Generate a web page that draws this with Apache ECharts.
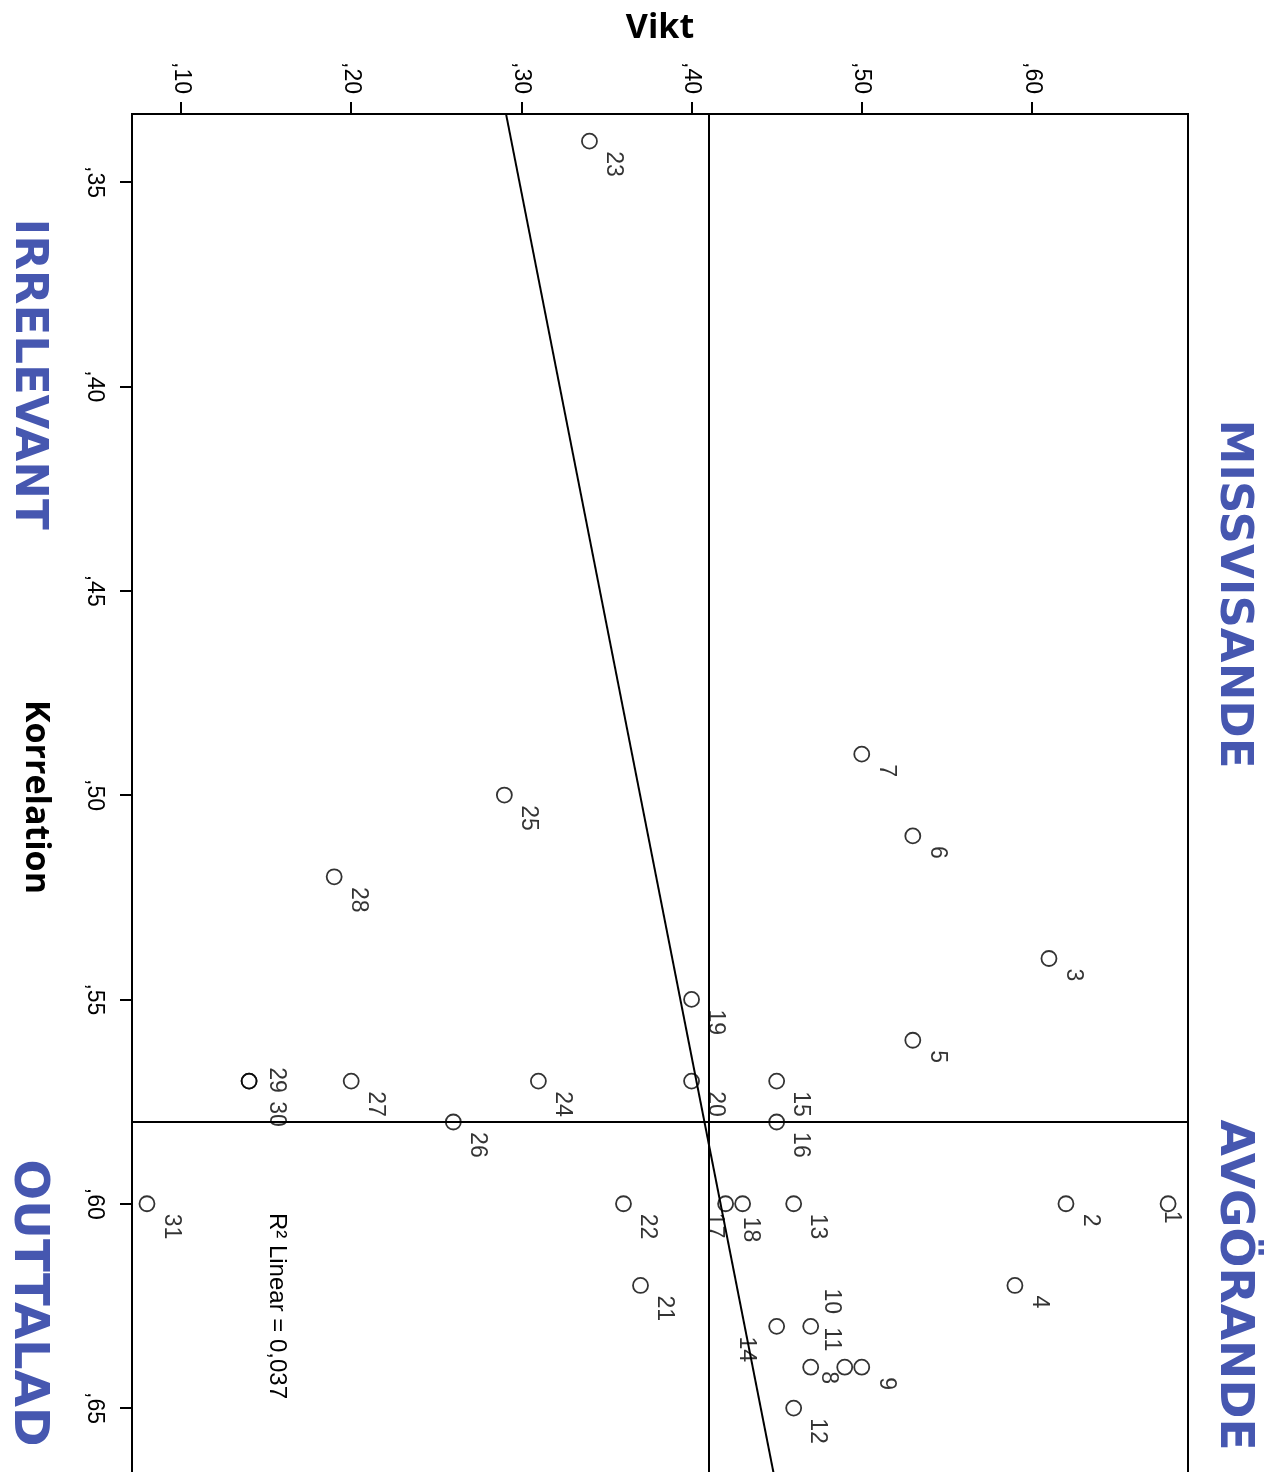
<!DOCTYPE html>
<html>
<head>
<meta charset="utf-8">
<script src="https://cdn.jsdelivr.net/npm/echarts@6/dist/echarts.min.js"></script>
<style>
  html, body { margin: 0; padding: 0; background: #fff; }
  #chart { width: 1280px; height: 1472px; }
</style>
</head>
<body>
<div id="chart"></div>
<script>
// punkter: nummer, vikt, korrelation
const pointIds = [1, 2, 3, 4, 5, 6, 7, 8, 9, 10, 11, 12, 13, 14, 15, 16,
                  17, 18, 19, 20, 21, 22, 23, 24, 25, 26, 27, 28, 29, 30, 31];
const vikt = [0.68, 0.62, 0.61, 0.59, 0.53, 0.53, 0.50, 0.49, 0.50, 0.47, 0.47, 0.46, 0.46, 0.45, 0.45, 0.45,
              0.42, 0.43, 0.40, 0.40, 0.37, 0.36, 0.34, 0.31, 0.29, 0.26, 0.20, 0.19, 0.14, 0.14, 0.08];
const korrelation = [0.60, 0.60, 0.54, 0.62, 0.56, 0.51, 0.49, 0.64, 0.64, 0.63, 0.64, 0.65, 0.60, 0.63, 0.57, 0.58,
                     0.60, 0.60, 0.55, 0.57, 0.62, 0.60, 0.34, 0.57, 0.50, 0.58, 0.57, 0.52, 0.57, 0.57, 0.60];

// medelvärdeslinjer
const meanVikt = 0.407;
const meanKorrelation = 0.576;

// regressionslinjens ändpunkter
const fitKorrelation = [0.3334, 0.6676];
const fitVikt = [0.291, 0.449];

// axlarnas skalstreck
const viktTicks = [0.10, 0.20, 0.30, 0.40, 0.50, 0.60];
const korrTicks = [0.35, 0.40, 0.45, 0.50, 0.55, 0.60, 0.65];

const quadrantColor = '#4657b0';

// etikettplacering (förskjutning från punktens mitt)
const defaultNudge = [25, 11];
const labelNudge = {
    1: [4, 8], 8: [-15, 5], 10: [22, -37], 11: [22, -39], 14: [-29, 11],
    17: [-10, 10], 18: [9, 14], 29: [28, -13], 30: [28, 21]
};
const symbolSize = 15;

function fmt(v) {
    return ',' + String(Math.round(v * 100)).padStart(2, '0');
}

const scatterData = pointIds.map(function (id, i) {
    const n = labelNudge[id] || defaultNudge;
    return {
        value: [vikt[i], korrelation[i], id],
        label: { position: [n[0] + symbolSize / 2, n[1] + symbolSize / 2] }
    };
});

const chart = echarts.init(document.getElementById('chart'));

const option = {
    backgroundColor: '#fff',
    animation: false,
    grid: {
        left: 132, top: 114, width: 1056, height: 1366,
        outerBoundsMode: 'none',
        containLabel: false,
        show: true, borderColor: '#000', borderWidth: 2, backgroundColor: 'transparent'
    },
    xAxis: {
        type: 'value',
        position: 'top',
        min: 0.0712,
        max: 0.6917,
        name: 'Vikt',
        nameLocation: 'middle',
        nameGap: 69,
        nameMoveOverlap: false,
        nameTextStyle: { fontFamily: 'Open Sans', fontWeight: 'bold', fontSize: 34, color: '#000' },
        splitLine: { show: false },
        axisLine: { show: true, lineStyle: { color: '#000', width: 2 } },
        axisTick: { show: true, customValues: viktTicks, length: 12, lineStyle: { color: '#000', width: 2 } },
        axisLabel: {
            customValues: viktTicks, rotate: 90, margin: 20, formatter: fmt,
            fontFamily: 'Liberation Sans', fontSize: 23, color: '#000'
        }
    },
    yAxis: {
        type: 'value',
        inverse: true,
        min: 0.33336,
        max: 0.6676,
        name: 'Korrelation',
        nameLocation: 'middle',
        nameRotate: -90,
        nameGap: 79,
        nameMoveOverlap: false,
        nameTextStyle: { fontFamily: 'Open Sans', fontWeight: 'bold', fontSize: 34, color: '#000' },
        splitLine: { show: false },
        axisLine: { show: true, lineStyle: { color: '#000', width: 2 } },
        axisTick: { show: true, customValues: korrTicks, length: 12, lineStyle: { color: '#000', width: 2 } },
        axisLabel: {
            customValues: korrTicks, rotate: -90, margin: 26, formatter: fmt,
            fontFamily: 'Liberation Sans', fontSize: 23, color: '#000'
        }
    },
    series: [
        {
            type: 'line',
            data: [[fitVikt[0], fitKorrelation[0]], [fitVikt[1], fitKorrelation[1]]],
            symbol: 'none',
            lineStyle: { color: '#000', width: 2 },
            silent: true,
            z: 2
        },
        {
            type: 'scatter',
            data: scatterData,
            symbol: 'circle',
            symbolSize: symbolSize,
            itemStyle: { color: 'rgba(0,0,0,0)', borderColor: '#000', borderWidth: 1.8 },
            label: {
                show: true,
                formatter: function (p) { return p.value[2]; },
                rotate: -90,
                align: 'left',
                verticalAlign: 'middle',
                fontFamily: 'Liberation Sans',
                fontSize: 23,
                color: '#000'
            },
            markLine: {
                silent: true,
                symbol: 'none',
                label: { show: false },
                lineStyle: { color: '#000', width: 2, type: 'solid' },
                data: [{ xAxis: meanVikt }, { yAxis: meanKorrelation }]
            },
            z: 3
        }
    ],
    graphic: [
        { type: 'text', x: 1233, y: 594, rotation: -Math.PI / 2,
          style: { text: 'MISSVISANDE', fill: quadrantColor, font: 'bold 45px "DejaVu Sans"', align: 'center', verticalAlign: 'middle' } },
        { type: 'text', x: 1233, y: 1285, rotation: -Math.PI / 2,
          style: { text: 'AVGÖRANDE', fill: quadrantColor, font: 'bold 47px "DejaVu Sans"', align: 'center', verticalAlign: 'middle' } },
        { type: 'text', x: 28, y: 374, rotation: -Math.PI / 2,
          style: { text: 'IRRELEVANT', fill: quadrantColor, font: 'bold 45px "DejaVu Sans"', align: 'center', verticalAlign: 'middle' } },
        { type: 'text', x: 27, y: 1303, rotation: -Math.PI / 2,
          style: { text: 'OUTTALAD', fill: quadrantColor, font: 'bold 48px "DejaVu Sans"', align: 'center', verticalAlign: 'middle' } },
        { type: 'text', x: 277, y: 1306, rotation: -Math.PI / 2,
          style: { text: 'R² Linear = 0,037', fill: '#000', font: '24px "Liberation Sans"', align: 'center', verticalAlign: 'middle' } }
    ]
};

chart.setOption(option);
</script>
</body>
</html>
